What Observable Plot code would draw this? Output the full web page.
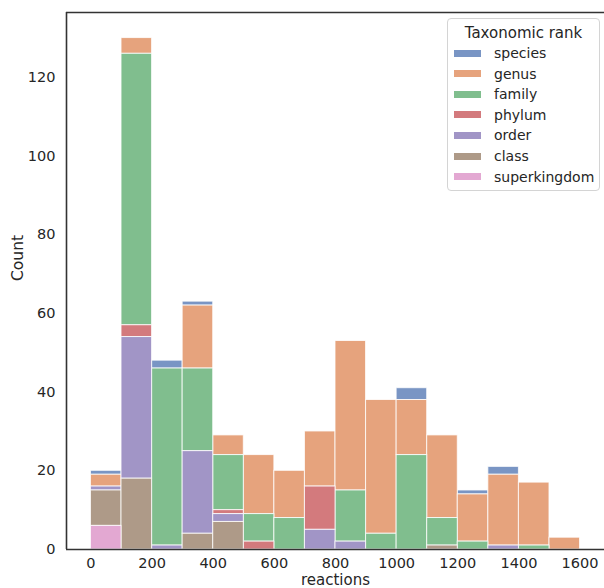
<!DOCTYPE html>
<html><head><meta charset="utf-8">
<script src="https://cdn.jsdelivr.net/npm/d3@7"></script>
<script src="https://cdn.jsdelivr.net/npm/@observablehq/plot@0.6"></script>
<style>
body{margin:0;background:#fff;font-family:"DejaVu Sans",sans-serif;}
#wrap{position:relative;width:604px;height:588px;overflow:hidden;}
.legend{position:absolute;left:447px;top:18px;width:153px;height:173px;box-sizing:border-box;border:1px solid #d4d4d4;border-radius:4px;background:rgba(255,255,255,0.85);color:#262626;}
.legend .title{position:absolute;left:0;width:100%;top:5px;text-align:center;font-size:15px;line-height:18px;}
.legend .item{position:absolute;left:6px;height:20px;font-size:14px;line-height:20px;white-space:nowrap;}
.legend .sw{display:inline-block;width:27px;height:7px;vertical-align:middle;margin-right:13px;position:relative;top:-1px;}
</style></head><body><div id="wrap"></div>
<script>
const binStarts = [0,100,200,300,400,500,600,700,800,900,1000,1100,1200,1300,1400,1500];
const binWidth = 100;
const ranks = ["species","genus","family","phylum","order","class","superkingdom"];
const colors = ["#4c72b0","#dd8452","#55a868","#c44e52","#8172b3","#937860","#da8bc3"];
const stackOrder = ["superkingdom","class","order","phylum","family","genus","species"];
const species      = [1,0,2,1,0,0,0,0,0,0,3,0,1,2,0,0];
const genus        = [3,4,0,16,5,15,12,14,38,34,14,21,12,18,16,3];
const family       = [0,69,45,21,14,7,8,0,13,4,24,7,2,0,1,0];
const phylum       = [0,3,0,0,1,2,0,11,0,0,0,0,0,0,0,0];
const order        = [1,36,1,21,2,0,0,5,2,0,0,0,0,1,0,0];
const klass        = [9,18,0,4,7,0,0,0,0,0,0,1,0,0,0,0];
const superkingdom = [6,0,0,0,0,0,0,0,0,0,0,0,0,0,0,0];
const xTicks = [0,200,400,600,800,1000,1200,1400,1600];
const yTicks = [0,20,40,60,80,100,120];
const xLabel = "reactions";
const yLabel = "Count";
const legendTitle = "Taxonomic rank";

const series = [species, genus, family, phylum, order, klass, superkingdom];
const rows = [];
ranks.forEach((r, i) => series[i].forEach((c, j) => {
  if (c > 0) rows.push({rank: r, x1: binStarts[j], x2: binStarts[j] + binWidth, count: c});
}));

const ink = "#262626";
const chart = Plot.plot({
  width: 604, height: 588,
  marginLeft: 66, marginRight: 0, marginTop: 12, marginBottom: 39,
  style: {fontFamily: "DejaVu Sans, sans-serif", fontSize: "14.5px", color: ink, background: "white", overflow: "visible"},
  x: {domain: [-80, 1680], ticks: xTicks, tickFormat: d3.format("d"), tickSize: 0, tickPadding: 8, label: null},
  y: {domain: [0, 136.5], ticks: yTicks, tickFormat: d3.format("d"), tickSize: 0, tickPadding: 11, label: null},
  color: {domain: ranks, range: colors},
  marks: [
    Plot.rectY(rows, {x1: "x1", x2: "x2", y: "count", fill: "rank", fillOpacity: 0.75, stroke: "white", strokeWidth: 1, strokeOpacity: 0.8, order: stackOrder}),
    Plot.ruleY([0], {stroke: "#333", strokeWidth: 1.6}),
    Plot.ruleY([136.5], {stroke: "#333", strokeWidth: 1.6}),
    Plot.ruleX([-80], {stroke: "#333", strokeWidth: 1.6}),
    Plot.text([xLabel], {text: d => d, frameAnchor: "bottom", dy: 35, fontSize: 15, fill: ink}),
    Plot.text([yLabel], {text: d => d, frameAnchor: "left", dx: -48, rotate: -90, fontSize: 15.5, fill: ink})
  ]
});
const wrap = document.getElementById("wrap");
wrap.appendChild(chart);

const lg = document.createElement("div");
lg.className = "legend";
const t = document.createElement("div");
t.className = "title"; t.textContent = legendTitle;
lg.appendChild(t);
ranks.forEach((r, i) => {
  const it = document.createElement("div");
  it.className = "item";
  it.style.top = (24 + i * 20.6) + "px";
  const sw = document.createElement("span");
  sw.className = "sw"; sw.style.background = colors[i]; sw.style.opacity = 0.75;
  it.appendChild(sw);
  it.appendChild(document.createTextNode(r));
  lg.appendChild(it);
});
wrap.appendChild(lg);
</script>
</body></html>
